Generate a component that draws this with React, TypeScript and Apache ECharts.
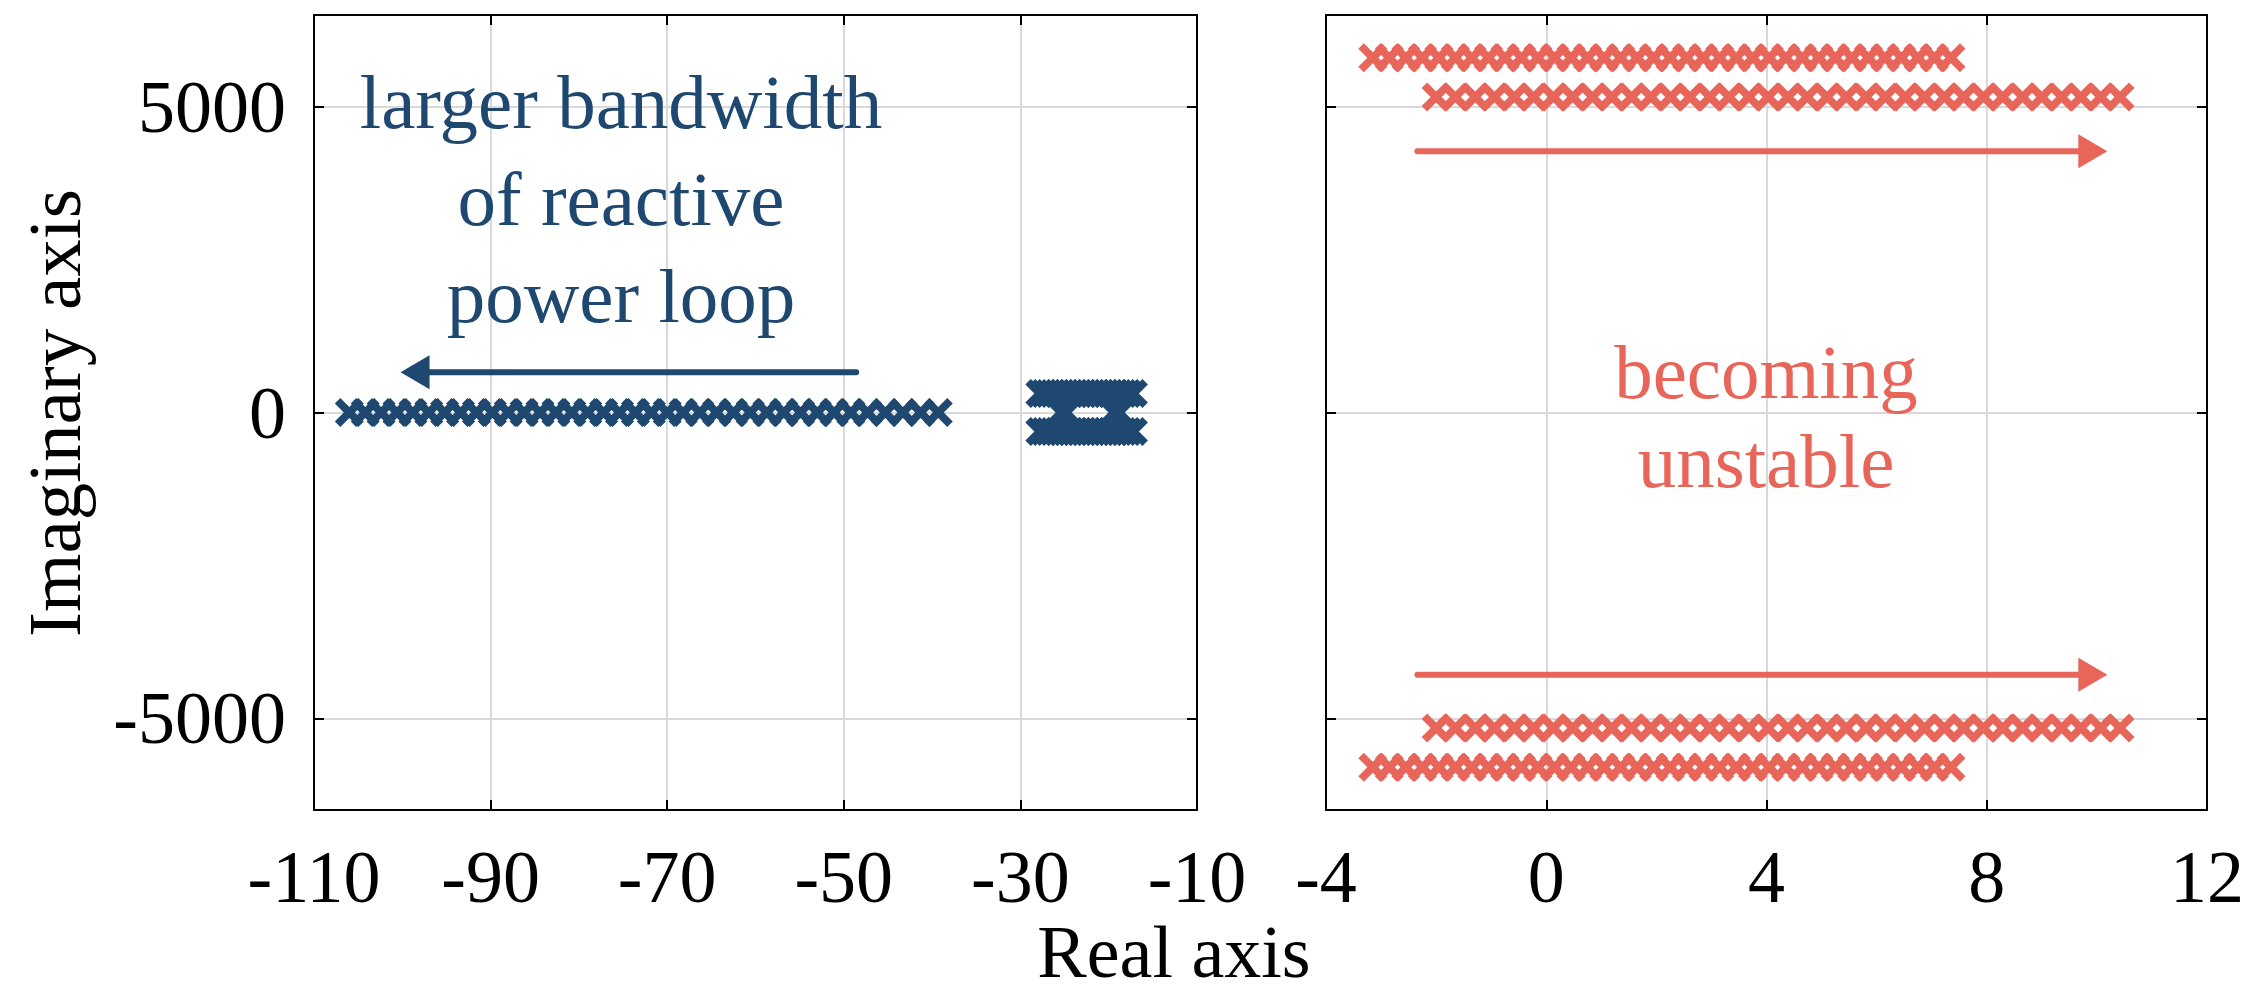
import React, { useEffect, useRef } from 'react';
import * as echarts from 'echarts';

const BLUE = '#1f4871';
const RED = '#e8655a';
const FONT = "'Liberation Serif', 'Times New Roman', serif";

// ---- Left panel (real part -110 .. -10) ----
const realPolesRe = [
  -106.0, -104.2, -102.4, -100.6, -98.8, -97.0, -95.2, -93.4, -91.6, -89.8, -88.0,
  -86.2, -84.4, -82.6, -80.8, -79.0, -77.2, -75.4, -73.6, -71.8, -70.0, -68.2,
  -66.3, -64.4, -62.5, -60.6, -58.7, -56.8, -54.9, -53.0, -51.1, -49.2, -47.3,
  -45.3, -43.3, -41.3, -39.3,
];
const realPolesIm = 0;

const clusterRe = [
  -27.8, -27.3, -26.8, -26.3, -25.8, -25.3, -24.8, -24.3, -23.8, -23.3, -22.8,
  -22.3, -21.8, -21.3, -20.8, -20.3, -19.8, -19.3, -18.8, -18.3, -17.8, -17.2,
];
const clusterIm = [310, -310];
const clusterCenterRe = [-25.4, -24.8, -19.4, -18.8];
const clusterCenterIm = 0;

// ---- Right panel (real part -4 .. 12) ----
const outerRowRe = [
  -3.15, -2.85, -2.55, -2.25, -1.95, -1.65, -1.35, -1.05, -0.75, -0.45, -0.15,
  0.15, 0.45, 0.75, 1.05, 1.35, 1.65, 1.95, 2.25, 2.55, 2.85, 3.15, 3.45, 3.75,
  4.05, 4.35, 4.65, 4.95, 5.25, 5.55, 5.85, 6.15, 6.45, 6.75, 7.05, 7.35,
];
const outerRowIm = [5800, -5800];
const innerRowRe = [
  -2.0, -1.65, -1.29, -0.94, -0.58, -0.23, 0.13, 0.48, 0.84, 1.19, 1.55, 1.9,
  2.26, 2.61, 2.97, 3.32, 3.68, 4.03, 4.39, 4.74, 5.1, 5.45, 5.81, 6.16, 6.52,
  6.87, 7.23, 7.58, 7.94, 8.29, 8.65, 9.0, 9.36, 9.71, 10.07, 10.42,
];
const innerRowIm = [5160, -5160];

// ---- Arrows: [startRe, startIm, tipRe, tipIm] ----
const leftArrows = [[-48.6, 660, -100.2, 660]];
const rightArrows = [
  [-2.34, 4270, 10.19, 4270],
  [-2.34, -4290, 10.19, -4290],
];

// ---- Axes / ticks ----
const leftXTicks = [-110, -90, -70, -50, -30, -10];
const rightXTicks = [-4, 0, 4, 8, 12];
const yTicks = [-5000, 0, 5000];
const yRange = [-6500, 6500];

const XSYM =
  'path://M0,19L19,0L50,31L81,0L100,19L69,50L100,81L81,100L50,69L19,100L0,81L31,50Z';

function arrowRender(color: string) {
  return (params: any, api: any) => {
    const p1 = api.coord([api.value(0), api.value(1)]);
    const p2 = api.coord([api.value(2), api.value(3)]);
    const dir = Math.sign(p2[0] - p1[0]) || 1;
    const headLen = 29;
    const headHalf = 17;
    const base = p2[0] - dir * headLen;
    return {
      type: 'group',
      children: [
        {
          type: 'line',
          shape: { x1: p1[0], y1: p1[1], x2: base + dir * 2, y2: p2[1] },
          style: { stroke: color, lineWidth: 6, lineCap: 'round' },
        },
        {
          type: 'polygon',
          shape: {
            points: [
              [p2[0], p2[1]],
              [base, p2[1] - headHalf],
              [base, p2[1] + headHalf],
            ],
          },
          style: { fill: color },
        },
      ],
    };
  };
}

export default function App() {
  const ref = useRef<HTMLDivElement>(null);
  useEffect(() => {
    if (!ref.current) return;
    const chart = echarts.init(ref.current, undefined, { renderer: 'svg' });

    const axisLine = { show: true, onZero: false, lineStyle: { color: '#000', width: 2 } };
    const axisTick = { show: true, inside: true, length: 10, lineStyle: { color: '#000', width: 2 } };
    const splitLine = { show: true, lineStyle: { color: '#d9d9d9', width: 2 } };
    const label = { color: '#000', fontSize: 74, fontFamily: FONT, formatter: (v: number) => String(v) };

    const xAxisFor = (grid: number, ticks: number[], pos: 'bottom' | 'top') => ({
      type: 'value',
      gridIndex: grid,
      position: pos,
      min: ticks[0],
      max: ticks[ticks.length - 1],
      interval: ticks[1] - ticks[0],
      axisLine,
      axisTick,
      axisLabel: pos === 'bottom' ? { ...label, margin: 30, showMinLabel: true, showMaxLabel: true } : { show: false },
      splitLine: pos === 'bottom' ? splitLine : { show: false },
    });
    const yAxisFor = (grid: number, pos: 'left' | 'right', showLabel: boolean) => ({
      type: 'value',
      gridIndex: grid,
      position: pos,
      min: yRange[0],
      max: yRange[1],
      axisLine,
      axisTick: { ...axisTick, customValues: yTicks },
      axisLabel: showLabel
        ? { ...label, margin: 28, customValues: yTicks }
        : { show: false, customValues: yTicks },
      splitLine: pos === 'left' ? splitLine : { show: false },
    });

    const scatter = (xi: number, data: number[][], color: string) => ({
      type: 'scatter',
      xAxisIndex: xi,
      yAxisIndex: xi,
      symbol: XSYM,
      symbolSize: 29,
      itemStyle: { color, opacity: 1 },
      silent: true,
      data,
    });

    const option: any = {
      animation: false,
      backgroundColor: '#fff',
      grid: [
        { left: 314, top: 15, width: 883, height: 795 },
        { left: 1326, top: 15, width: 881, height: 795 },
      ],
      xAxis: [
        xAxisFor(0, leftXTicks, 'bottom'),
        xAxisFor(0, leftXTicks, 'top'),
        xAxisFor(1, rightXTicks, 'bottom'),
        xAxisFor(1, rightXTicks, 'top'),
      ],
      yAxis: [
        yAxisFor(0, 'left', true),
        yAxisFor(0, 'right', false),
        yAxisFor(1, 'left', false),
        yAxisFor(1, 'right', false),
      ],
      series: [
        scatter(0, realPolesRe.map((re) => [re, realPolesIm]), BLUE),
        scatter(0, clusterIm.flatMap((im) => clusterRe.map((re) => [re, im])), BLUE),
        scatter(0, clusterCenterRe.map((re) => [re, clusterCenterIm]), BLUE),
        scatter(2, outerRowIm.flatMap((im) => outerRowRe.map((re) => [re, im])), RED),
        scatter(2, innerRowIm.flatMap((im) => innerRowRe.map((re) => [re, im])), RED),
        {
          type: 'custom',
          xAxisIndex: 0,
          yAxisIndex: 0,
          silent: true,
          renderItem: arrowRender(BLUE),
          data: leftArrows,
        },
        {
          type: 'custom',
          xAxisIndex: 2,
          yAxisIndex: 2,
          silent: true,
          renderItem: arrowRender(RED),
          data: rightArrows,
        },
      ],
      graphic: [
        ...['larger bandwidth', 'of reactive', 'power loop'].map((t, i) => ({
          type: 'text',
          x: 621,
          y: 102 + i * 97,
          style: {
            text: t,
            fill: BLUE,
            font: `77px ${FONT}`,
            textAlign: 'center',
            textVerticalAlign: 'middle',
          },
          z: 10,
        })),
        ...['becoming', 'unstable'].map((t, i) => ({
          type: 'text',
          x: 1766,
          y: 372 + i * 89,
          style: {
            text: t,
            fill: RED,
            font: `77px ${FONT}`,
            textAlign: 'center',
            textVerticalAlign: 'middle',
          },
          z: 10,
        })),
        {
          type: 'text',
          x: 1174,
          y: 952,
          style: {
            text: 'Real axis',
            fill: '#000',
            font: `74px ${FONT}`,
            lineHeight: 74,
            textAlign: 'center',
            textVerticalAlign: 'middle',
          },
        },
        {
          type: 'text',
          x: 54,
          y: 413,
          rotation: Math.PI / 2,
          style: {
            text: 'Imaginary axis',
            fill: '#000',
            font: `75px ${FONT}`,
            textAlign: 'center',
            textVerticalAlign: 'middle',
          },
        },
      ],
    };
    chart.setOption(option);
    return () => chart.dispose();
  }, []);
  return (
    <div
      ref={ref}
      style={{ position: 'absolute', left: 0, top: 0, width: 2255, height: 994, background: '#fff' }}
    />
  );
}
